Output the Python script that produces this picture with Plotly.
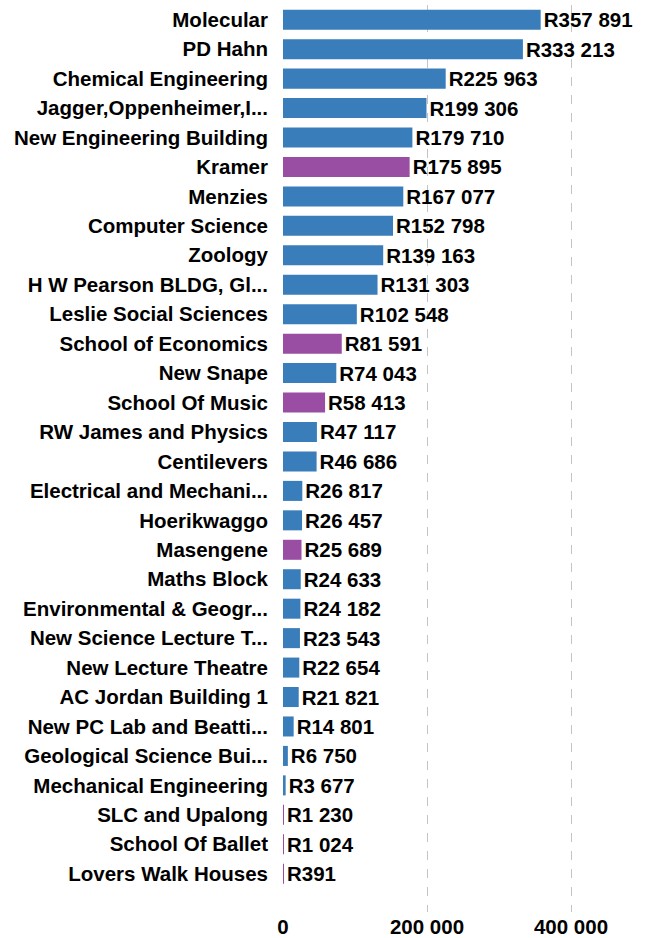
import plotly.graph_objects as go

buildings = [
    "Molecular", "PD Hahn", "Chemical Engineering", "Jagger,Oppenheimer,I...",
    "New Engineering Building", "Kramer", "Menzies", "Computer Science", "Zoology",
    "H W Pearson BLDG, Gl...", "Leslie Social Sciences", "School of Economics",
    "New Snape", "School Of Music", "RW James and Physics", "Centilevers",
    "Electrical and Mechani...", "Hoerikwaggo", "Masengene", "Maths Block",
    "Environmental & Geogr...", "New Science Lecture T...", "New Lecture Theatre",
    "AC Jordan Building 1", "New PC Lab and Beatti...", "Geological Science Bui...",
    "Mechanical Engineering", "SLC and Upalong", "School Of Ballet", "Lovers Walk Houses",
]
amounts = [
    357891, 333213, 225963, 199306, 179710, 175895, 167077, 152798, 139163,
    131303, 102548, 81591, 74043, 58413, 47117, 46686, 26817, 26457, 25689,
    24633, 24182, 23543, 22654, 21821, 14801, 6750, 3677, 1230, 1024, 391,
]
highlight = [
    "Kramer", "School of Economics", "School Of Music", "Masengene",
    "SLC and Upalong", "School Of Ballet", "Lovers Walk Houses",
]

BLUE = "#3a7dbb"
PURPLE = "#9a4ea3"
FONT = dict(family="Liberation Sans", size=20.5, color="black", weight="bold")
colors = [PURPLE if b in highlight else BLUE for b in buildings]

fig = go.Figure(go.Bar(
    x=amounts, y=buildings, orientation="h",
    marker=dict(color=colors, line=dict(width=0)),
    text=amounts, texttemplate="R%{x:,}", textposition="outside",
    textfont=FONT, constraintext="none",
    cliponaxis=False,
))

fig.update_layout(
    width=647, height=938,
    margin=dict(l=283, r=4, t=5, b=26, autoexpand=False),
    plot_bgcolor="white", paper_bgcolor="white",
    separators=". ",
    bargap=0.32,
    showlegend=False,
    font=FONT,
    xaxis=dict(
        range=[0, 500000], tickvals=[0, 200000, 400000], tickformat=",",
        showgrid=True, gridcolor="#c4c4c4", griddash="dash", gridwidth=1,
        zeroline=False, showline=False, ticks="", automargin=False,
        tickfont=FONT,
    ),
    yaxis=dict(
        range=[30.3, -0.5], showgrid=False, zeroline=False, showline=False,
        ticks="", ticklabelstandoff=14, automargin=False,
        tickfont=FONT,
    ),
)

# the page's default body margin would shift the chart
fig.write_html("out.html", config={"displayModeBar": False},
               post_script="document.body.style.margin='0';")
